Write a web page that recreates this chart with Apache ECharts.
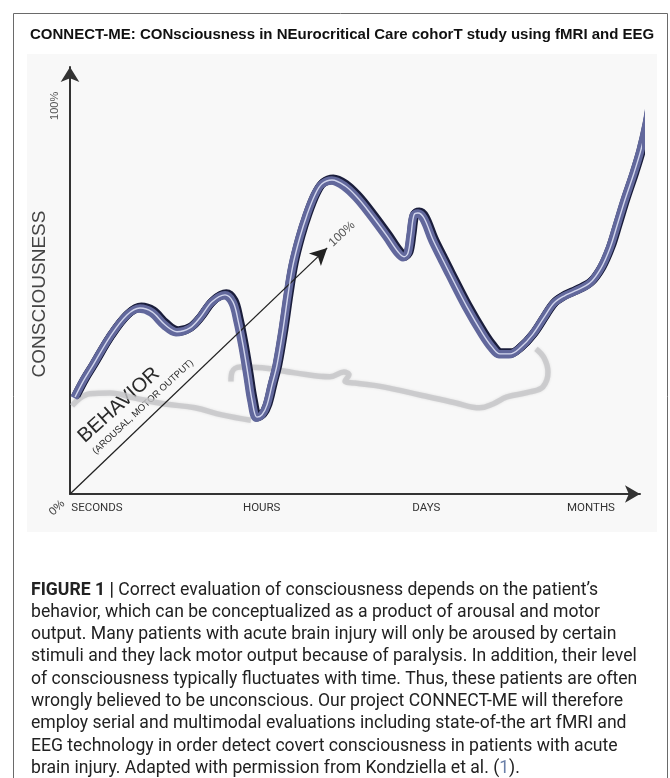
<!DOCTYPE html>
<html><head><meta charset="utf-8">
<script src="https://cdn.jsdelivr.net/npm/echarts@6/dist/echarts.min.js"></script>
<style>html,body{margin:0;padding:0;background:#fff}#c{width:670px;height:778px}</style>
</head><body><div id="c"></div>
<script>
// ---- data ----
const timeLabels = ['SECONDS', 'HOURS', 'DAYS', 'MONTHS'];
const consciousnessX = [0.87,2.42,3.98,6.92,9.86,12.11,14.19,16.44,18.51,20.76,22.49,24.57,26.82,28.20,29.07,29.93,30.80,31.49,32.35,33.22,34.08,34.95,35.81,36.85,37.72,38.58,39.79,41.00,42.39,43.60,45.33,47.58,49.65,51.90,54.84,56.75,57.79,58.48,59.00,59.52,60.21,61.25,62.80,64.36,65.74,68.69,71.45,73.01,74.39,76.12,77.85,80.10,82.18,83.74,85.47,87.37,89.97,91.87,93.43,94.64,96.02,97.58,98.79,99.83,100.52];
const consciousnessY = [25.0,29.4,33.2,40.5,46.1,47.9,46.9,43.6,41.8,42.8,45.4,49.5,51.3,49.5,44.8,38.4,30.7,24.2,19.8,20.4,22.9,28.1,33.2,42.3,51.3,59.0,66.2,71.9,77.1,79.9,80.9,79.4,76.5,72.4,66.5,62.4,61.1,62.1,66.8,71.9,72.4,71.1,65.5,60.8,56.7,48.2,41.2,37.9,36.1,36.1,37.6,41.2,45.9,49.2,51.0,52.3,54.4,58.2,63.4,69.1,75.8,82.7,88.7,95.4,101.5];
// behavior shadow curve: two strokes (the join is hidden behind the HOURS dip)
const behaviorX = [0.35,1.73,3.46,6.92,11.25,16.44,21.63,26.30,31.30,null,27.85,28.03,29.41,33.22,38.93,44.98,47.40,48.27,47.58,49.31,54.15,60.55,66.61,70.93,73.18,75.61,79.58,81.83,82.70,82.01,80.62];
const behaviorY = [22.7,24.7,25.8,26.0,24.7,23.2,22.2,20.4,19.0,null,29.0,31.4,32.7,32.5,31.2,30.2,31.4,30.7,29.1,28.6,27.6,25.5,23.5,22.2,23.2,25.0,26.3,27.6,31.4,35.1,37.4];
const behaviorAxisStart = [0, 0];
const behaviorAxisEnd = [44.5, 63.4];
const yTickValue = 100;
const captionLines = [
  "{b|FIGURE 1 |} Correct evaluation of consciousness depends on the patient\u2019s",
  "behavior, which can be conceptualized as a product of arousal and motor",
  "output. Many patients with acute brain injury will only be aroused by certain",
  "stimuli and they lack motor output because of paralysis. In addition, their level",
  "of consciousness typically fluctuates with time. Thus, these patients are often",
  "wrongly believed to be unconscious. Our project CONNECT-ME will therefore",
  "employ serial and multimodal evaluations including state-of-the art fMRI and",
  "EEG technology in order detect covert consciousness in patients with acute",
  "brain injury. Adapted with permission from Kondziella et al. ({l|1})."
];

const pair = (xs, ys) => xs.map((x, i) => (x === null ? [null, null] : [x, ys[i]]));
const NARROW = '"Roboto", "Liberation Sans", sans-serif';
const SANS = '"Liberation Sans", Arial, sans-serif';
const SM = 0.35;

const chart = echarts.init(document.getElementById('c'), null, {renderer: 'canvas'});
chart.setOption({
  animation: false,
  backgroundColor: '#ffffff',
  title: {
    text: 'CONNECT-ME: CONsciousness in NEurocritical Care cohorT study using fMRI and EEG',
    left: 25, top: 22,
    textStyle: {fontFamily: SANS, fontSize: 15, fontWeight: 'bold', color: '#111'}
  },
  grid: [
    {left: 70, right: 30, top: 67, bottom: 284},
    {left: 97, right: 79, top: 400, bottom: 284}
  ],
  xAxis: [
    {type: 'value', gridIndex: 0, min: 0, max: 98.62,
     axisLine: {show: true, symbol: ['none', 'arrow'], symbolSize: [13, 15], lineStyle: {color: '#333', width: 2}},
     axisTick: {show: false}, axisLabel: {show: false}, splitLine: {show: false}},
    {type: 'category', gridIndex: 1, data: timeLabels, boundaryGap: false,
     axisLine: {show: false}, axisTick: {show: false},
     axisLabel: {margin: 8, fontSize: 11.5, color: '#333', fontFamily: NARROW, interval: 0}}
  ],
  yAxis: [
    {type: 'value', gridIndex: 0, min: 0, max: 110, interval: 100,
     axisLine: {show: true, symbol: ['none', 'arrow'], symbolSize: [14, 15], lineStyle: {color: '#333', width: 2}},
     axisTick: {show: false}, splitLine: {show: false},
     axisLabel: {rotate: 90, margin: 10, fontSize: 11, color: '#555', fontFamily: SANS,
                 formatter: v => v === yTickValue ? yTickValue + '%' : ''}},
    {type: 'value', gridIndex: 1, show: false}
  ],
  series: [
    {type: 'line', name: 'behavior', xAxisIndex: 0, yAxisIndex: 0, data: pair(behaviorX, behaviorY),
     smooth: 0.4, symbol: 'none', clip: false, connectNulls: false, z: 1,
     lineStyle: {color: 'rgba(198,198,200,0.8)', width: 5.5, shadowBlur: 3, shadowColor: 'rgba(0,0,0,0.12)'},
     markLine: {silent: true, symbol: ['none', 'arrow'], symbolSize: [13, 17],
       lineStyle: {color: '#222', width: 1.3, type: 'solid'}, label: {show: false},
       data: [[{coord: behaviorAxisStart}, {coord: behaviorAxisEnd}]]}},
    {type: 'line', name: 'edge', data: pair(consciousnessX, consciousnessY), smooth: SM, symbol: 'none', clip: false, z: 3,
     lineStyle: {color: '#1b1e3c', width: 8.5, shadowColor: '#1b1e3c', shadowBlur: 0.01, shadowOffsetX: 1.3, shadowOffsetY: -1.3}},
    {type: 'line', name: 'body', data: pair(consciousnessX, consciousnessY), smooth: SM, symbol: 'none', clip: false, z: 4,
     lineStyle: {color: '#62689c', width: 7.5, shadowColor: '#62689c', shadowBlur: 0.01, shadowOffsetX: -1, shadowOffsetY: 1}},
    {type: 'line', name: 'highlight', data: pair(consciousnessX, consciousnessY), smooth: SM, symbol: 'none', clip: false, z: 5,
     lineStyle: {color: 'rgba(230,234,252,0.85)', width: 1.4}}
  ],
  graphic: [
    {type: 'rect', z: -10, silent: true, shape: {x: 13.5, y: 13.5, width: 654, height: 800},
     style: {fill: '#ffffff', stroke: '#6a6a6a', lineWidth: 1}},
    {type: 'rect', z: -9, silent: true, shape: {x: 27, y: 54, width: 630, height: 478}, style: {fill: '#f8f8f8'}},
    {type: 'text', x: 40, y: 294, rotation: Math.PI / 2,
     style: {text: 'CONSCIOUSNESS', fontSize: 19, fontFamily: SANS, fill: '#444', align: 'center', verticalAlign: 'middle'}},
    {type: 'text', x: 119, y: 405, rotation: 42 * Math.PI / 180,
     style: {text: 'BEHAVIOR', fontSize: 20, fontFamily: SANS, fill: '#2a2a2a', align: 'center', verticalAlign: 'middle'}},
    {type: 'text', x: 143, y: 407, rotation: 43 * Math.PI / 180,
     style: {text: '(AROUSAL, MOTOR OUTPUT)', fontSize: 9.5, fontFamily: SANS, fill: '#2a2a2a', align: 'center', verticalAlign: 'middle'}},
    {type: 'text', x: 342, y: 234, rotation: 43 * Math.PI / 180,
     style: {text: '100%', fontSize: 12, fontFamily: SANS, fill: '#555', align: 'center', verticalAlign: 'middle'}},
    {type: 'text', x: 57, y: 508, rotation: 45 * Math.PI / 180,
     style: {text: '0%', fontSize: 11.5, fontFamily: SANS, fill: '#444', align: 'center', verticalAlign: 'middle'}},
    {type: 'text', x: 31, y: 579,
     style: {text: captionLines.join('\n'), fontSize: 17.6, lineHeight: 22.3, fontFamily: NARROW, fill: '#222',
       rich: {b: {fontWeight: 'bold', fontSize: 17.6, lineHeight: 22.3, fontFamily: NARROW, fill: '#222'},
              l: {fontSize: 17.6, lineHeight: 22.3, fontFamily: NARROW, fill: '#6a7fa8'}}}}
  ]
});
</script></body></html>
